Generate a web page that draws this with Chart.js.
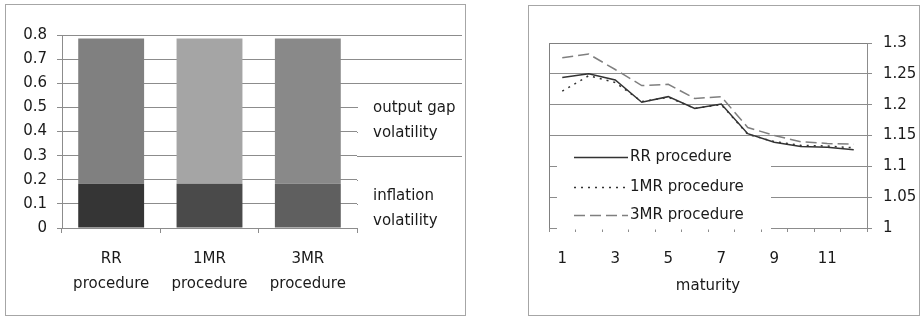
<!DOCTYPE html>
<html><head><meta charset="utf-8">
<script src="https://cdn.jsdelivr.net/npm/chart.js@4"></script>
<style>
html,body{margin:0;padding:0;background:#fff;width:920px;height:316px;overflow:hidden}
.panel{position:absolute;border:1px solid #a6a6a6;box-sizing:border-box}
canvas{position:absolute}
</style></head><body>
<div class="panel" style="left:5px;top:4px;width:461px;height:312px"></div>
<div class="panel" style="left:528px;top:5px;width:392px;height:311px"></div>
<canvas id="c1" style="left:0;top:0" width="470" height="316"></canvas>
<canvas id="c2" style="left:470px;top:0" width="450" height="316"></canvas>
<script>
// ---- data: left chart ----
const procedures = [['RR', 'procedure'], ['1MR', 'procedure'], ['3MR', 'procedure']];
const inflationVolatility = [0.183, 0.183, 0.183];
const outputGapVolatility = [0.603, 0.603, 0.603];
const barTicks = [0, 0.1, 0.2, 0.3, 0.4, 0.5, 0.6, 0.7, 0.8];
const barLegend = [['output gap', 'volatility'], ['inflation', 'volatility']];
// ---- data: right chart ----
const maturity = ['1','2','3','4','5','6','7','8','9','10','11','12'];
const rrProcedure  = [1.244,1.250,1.240,1.204,1.213,1.194,1.201,1.153,1.139,1.132,1.131,1.127];
const mr1Procedure = [1.222,1.247,1.236,1.205,1.212,1.194,1.200,1.152,1.140,1.134,1.133,1.130];
const mr3Procedure = [1.276,1.282,1.257,1.231,1.233,1.210,1.213,1.163,1.150,1.140,1.137,1.136];
const lineLegend = ['RR procedure', '1MR procedure', '3MR procedure'];

const FONT = 'DejaVu Sans';
const FS = 15;
const GRID = '#8c8c8c';
const TXT = '#1a1a1a';
Chart.defaults.font.family = FONT;
Chart.defaults.font.size = FS;
Chart.defaults.color = TXT;

const barExtras = {
  id: 'barExtras',
  afterDraw(chart) {
    const ctx = chart.ctx, ca = chart.chartArea, y = chart.scales.y;
    const xEnd = 462;
    ctx.save();
    ctx.strokeStyle = GRID; ctx.lineWidth = 1;
    barTicks.forEach(v => {
      const py = Math.round(y.getPixelForValue(v)) + 0.5;
      ctx.beginPath(); ctx.moveTo(ca.right, py); ctx.lineTo(xEnd, py); ctx.stroke();
    });
    ctx.fillStyle = '#fff';
    ctx.fillRect(ca.right + 1, 93, xEnd - ca.right + 2, 54);
    ctx.fillRect(ca.right + 1, 168, xEnd - ca.right + 2, 66);
    ctx.fillStyle = TXT;
    ctx.font = FS + 'px "' + FONT + '"';
    ctx.textBaseline = 'middle'; ctx.textAlign = 'left';
    ctx.fillText(barLegend[0][0], 373, 108);
    ctx.fillText(barLegend[0][1], 373, 133);
    ctx.fillText(barLegend[1][0], 373, 196);
    ctx.fillText(barLegend[1][1], 373, 221);
    ctx.restore();
  }
};

new Chart(document.getElementById('c1'), {
  type: 'bar',
  data: {
    labels: procedures,
    datasets: [
      { label: 'inflation volatility', data: inflationVolatility,
        backgroundColor: ['#353535', '#4a4a4a', '#5f5f5f'], borderWidth: 0 },
      { label: 'output gap volatility', data: outputGapVolatility,
        backgroundColor: ['#808080', '#a5a5a5', '#898989'], borderWidth: 0 }
    ]
  },
  options: {
    responsive: false, animation: false,
    layout: { padding: { left: 0, right: 113, top: 35, bottom: 0 } },
    plugins: { legend: { display: false }, tooltip: { enabled: false } },
    datasets: { bar: { categoryPercentage: 1, barPercentage: 0.67 } },
    scales: {
      x: {
        stacked: true,
        grid: { offset: true, drawOnChartArea: false, drawTicks: true, tickLength: 5, color: GRID },
        border: { display: true, color: GRID },
        ticks: { padding: 14, font: { size: FS, lineHeight: 1.65 }, maxRotation: 0 },
        afterFit: s => { s.height = 88; }
      },
      y: {
        stacked: true, min: 0, max: 0.8,
        afterBuildTicks: s => { s.ticks = barTicks.map(v => ({ value: v })); },
        grid: { color: GRID, tickLength: 5 },
        border: { display: true, color: GRID },
        ticks: { padding: 10, callback: v => String(v) },
        afterFit: s => { s.width = 62; }
      }
    }
  },
  plugins: [barExtras]
});

const lineExtras = {
  id: 'lineExtras',
  afterDraw(chart) {
    const ctx = chart.ctx, ca = chart.chartArea;
    ctx.save();
    ctx.strokeStyle = '#808080'; ctx.lineWidth = 1;
    ctx.beginPath();
    ctx.moveTo(Math.round(ca.left) + 0.5, ca.bottom);
    ctx.lineTo(Math.round(ca.left) + 0.5, Math.round(ca.top) + 0.5);
    ctx.lineTo(ca.right, Math.round(ca.top) + 0.5);
    ctx.stroke();
    // legend box
    ctx.fillStyle = '#fff';
    ctx.fillRect(87, 143, 214, 86.5);
    const ys = [157, 187, 215];
    const styles = chart.data.datasets;
    ctx.font = FS + 'px "' + FONT + '"';
    ctx.textBaseline = 'middle'; ctx.textAlign = 'left';
    ys.forEach((yy, i) => {
      const d = styles[i];
      ctx.strokeStyle = d.borderColor; ctx.lineWidth = d.borderWidth;
      ctx.setLineDash(d.borderDash || []);
      ctx.beginPath(); ctx.moveTo(104, yy + 0.5); ctx.lineTo(158, yy + 0.5); ctx.stroke();
      ctx.setLineDash([]);
      ctx.fillStyle = TXT;
      ctx.fillText(lineLegend[i], 160, yy);
    });
    ctx.restore();
  }
};

new Chart(document.getElementById('c2'), {
  type: 'line',
  data: {
    labels: maturity,
    datasets: [
      { label: lineLegend[0], data: rrProcedure, borderColor: '#333333', borderWidth: 1.5, pointRadius: 0, tension: 0 },
      { label: lineLegend[1], data: mr1Procedure, borderColor: '#333333', borderWidth: 1.5, borderDash: [2, 5], pointRadius: 0, tension: 0 },
      { label: lineLegend[2], data: mr3Procedure, borderColor: '#7f7f7f', borderWidth: 1.5, borderDash: [11, 5], pointRadius: 0, tension: 0 }
    ]
  },
  options: {
    responsive: false, animation: false,
    layout: { padding: { left: 79, right: 0, top: 43, bottom: 0 } },
    plugins: { legend: { display: false }, tooltip: { enabled: false } },
    scales: {
      x: {
        offset: true,
        grid: { offset: true, drawOnChartArea: false, drawTicks: true, tickLength: 4, color: GRID },
        border: { display: true, color: GRID },
        ticks: { autoSkip: false, maxRotation: 0, padding: 18,
          callback: function (v, i) { return i % 2 === 0 ? this.getLabelForValue(v) : ''; } },
        title: { display: true, text: 'maturity', padding: { top: 0, bottom: 21 } },
        afterFit: s => { s.height = 88; }
      },
      y: {
        position: 'right', min: 1, max: 1.3,
        ticks: { stepSize: 0.05, padding: 11, callback: v => String(parseFloat(v.toFixed(2))) },
        grid: { color: GRID, tickLength: 5 },
        border: { display: true, color: GRID },
        afterFit: s => { s.width = 53; }
      }
    }
  },
  plugins: [lineExtras]
});
</script>
</body></html>
